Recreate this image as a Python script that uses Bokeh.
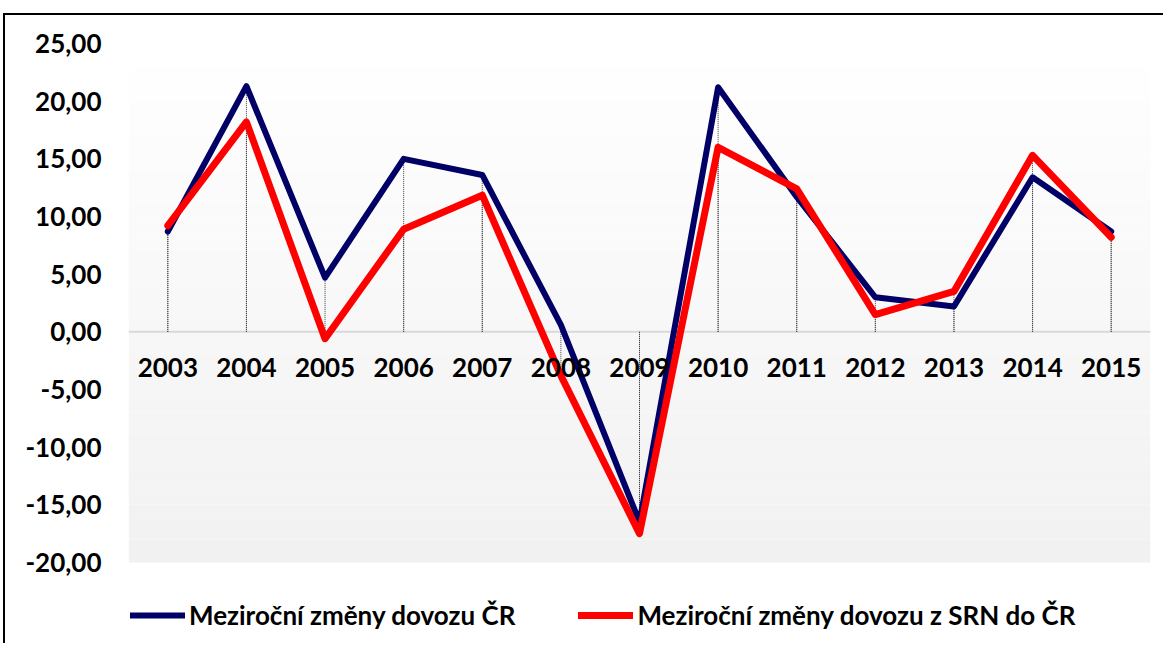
from bokeh.plotting import figure
from bokeh.models import (Range1d, FactorRange, FixedTicker, CustomJSTickFormatter,
                          Span, BoxAnnotation, Legend, LegendItem, ColumnDataSource)
from bokeh.core.properties import value
from bokeh.embed import file_html
from bokeh.resources import INLINE

years = ["2003", "2004", "2005", "2006", "2007", "2008", "2009",
         "2010", "2011", "2012", "2013", "2014", "2015"]
dovoz_cr = [8.7, 21.3, 4.7, 15.0, 13.6, 0.6, -16.5, 21.2, 11.7, 3.0, 2.2, 13.4, 8.7]
dovoz_srn = [9.2, 18.2, -0.6, 8.9, 11.85, -3.8, -17.5, 16.0, 12.4, 1.5, 3.5, 15.3, 8.2]
y_ticks = [-20, -15, -10, -5, 0, 5, 10, 15, 20, 25]
label_cr = "Meziroční změny dovozu ČR"
label_srn = "Meziroční změny dovozu z SRN do ČR"

FONT = "Lato"
Y_MIN, Y_MAX = -20.0, 25.0
PX_PER_UNIT = 519 / (Y_MAX - Y_MIN)
FRAME_H = 600
y_start = Y_MAX - FRAME_H / PX_PER_UNIT   # extra white room below -20 for the legend

p = figure(x_range=FactorRange(*years), y_range=Range1d(y_start, Y_MAX),
           width=1158, height=628, frame_width=1022, frame_height=FRAME_H,
           min_border_left=123, min_border_right=13, min_border_top=28, min_border_bottom=0,
           output_backend="svg", toolbar_location=None)
p.styles = {"border-left": "2px solid black", "border-top": "2px solid black",
            "margin-top": "13px", "margin-left": "3px"}
p.outline_line_color = None
p.grid.visible = False
p.background_fill_color = "white"
p.border_fill_color = "white"

# vertical gradient background of plot area (-20 .. 25)
n = 45
for i in range(n):
    b = Y_MIN + (Y_MAX - Y_MIN) * i / n
    t = Y_MIN + (Y_MAX - Y_MIN) * (i + 1) / n
    f = (i + 0.5) / n  # 0 bottom, 1 top
    c = int(round(0xf1 + (0xff - 0xf1) * f))
    p.add_layout(BoxAnnotation(bottom=b, top=t, fill_color=f"#{c:02x}{c:02x}{c:02x}",
                               fill_alpha=1, line_alpha=0, level="underlay"))

p.xaxis.visible = False
yax = p.yaxis[0]
yax.ticker = FixedTicker(ticks=y_ticks)
yax.formatter = CustomJSTickFormatter(code="return tick.toFixed(2).replace('.', ',');")
yax.axis_line_color = None
yax.major_tick_line_color = None
yax.minor_tick_line_color = None
yax.major_tick_out = 0
yax.major_tick_in = 0
yax.major_label_standoff = 27
yax.major_label_text_font = FONT
yax.major_label_text_font_style = "bold"
yax.major_label_text_font_size = "26px"
yax.major_label_text_color = "black"

p.add_layout(Span(location=0, dimension="width", line_color="#d9d9d9", line_width=2,
                  level="underlay"))

src = ColumnDataSource(dict(x=years, cr=dovoz_cr, srn=dovoz_srn,
                            zero=[0] * len(years)))
p.segment(x0="x", y0="zero", x1="x", y1="cr", source=src, line_color="#404040",
          line_width=1, line_dash="1 1")
p.segment(x0="x", y0="zero", x1="x", y1="srn", source=src, line_color="#404040",
          line_width=1, line_dash="1 1")

r_cr = p.line(x="x", y="cr", source=src, line_color="#000066", line_width=6,
              line_join="round", line_cap="round")
r_srn = p.line(x="x", y="srn", source=src, line_color="#ff0000", line_width=7,
               line_join="round", line_cap="round")

p.text(x="x", y="zero", text="x", source=src, y_offset=36,
       text_align="center", text_baseline="middle", text_font=value(FONT),
       text_font_style="bold", text_font_size="26px", text_color="black")

legend = Legend(items=[LegendItem(label=label_cr, renderers=[r_cr]),
                       LegendItem(label=label_srn, renderers=[r_srn])],
                orientation="horizontal", location=(2, 12),
                padding=0, margin=0, spacing=63, glyph_width=55, label_standoff=4,
                label_text_font=FONT, label_text_font_style="bold",
                label_text_font_size="26px", label_text_color="black",
                background_fill_alpha=0, border_line_color=None)
p.add_layout(legend, "center")

open("out.html", "w").write(file_html(p, INLINE))
